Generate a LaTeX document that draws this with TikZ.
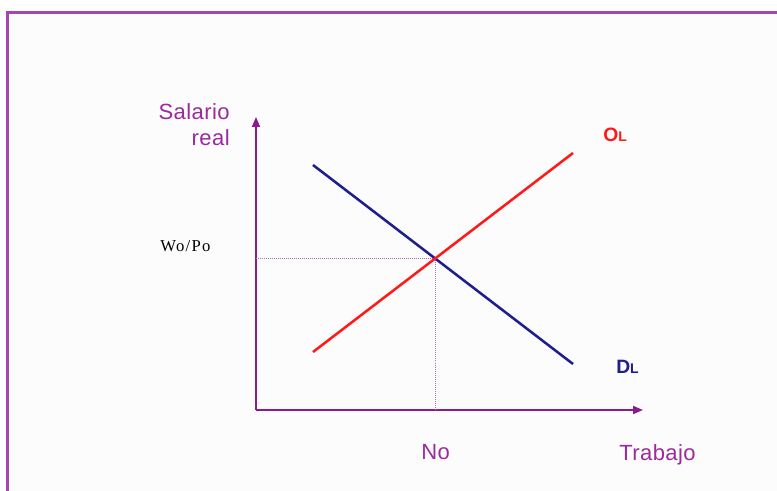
\documentclass[tikz,border=0pt]{standalone}
\usepackage{fontspec}
\setmainfont{Liberation Sans}
\newfontfamily\serifw[LetterSpace=8]{Liberation Serif}
\newfontfamily\wideaxis[LetterSpace=2]{Liberation Sans}
\usepackage{xcolor}
\usetikzlibrary{arrows.meta, positioning}

\definecolor{axispurple}{HTML}{8A1A8E}
\definecolor{textpurple}{HTML}{9B2A9E}
\definecolor{framepurple}{HTML}{A445B2}
\definecolor{demandblue}{HTML}{1E1E8C}
\definecolor{supplyred}{HTML}{FF1A1A}

\begin{document}
\begin{tikzpicture}[
        x=0.75pt, y=-0.75pt,
        axis/.style={
            draw=axispurple,
            line width=1.3pt,
            -{Triangle[length=7.5pt, width=6pt]}
        },
        demand/.style={draw=demandblue, line width=1.9pt},
        supply/.style={draw=supplyred, line width=1.9pt},
        guide/.style={draw=textpurple!70, densely dotted, line width=0.5pt},
        axislabel/.style={
            text=textpurple,
            inner sep=0pt,
            font=\wideaxis\fontsize{16.5}{19.5}\selectfont
        },
        curvelabel/.style={
            inner sep=0pt,
            font=\fontsize{14.5}{17}\selectfont\bfseries
        }
    ]

    \useasboundingbox (0,0) rectangle (777,491);
    \draw [framepurple, line width=1.6pt, fill=black!1] (7.5,12.5) rectangle (790,505);

    % axes
    \coordinate (origin) at (256,410);
    \coordinate (ytip) at (256,117);
    \coordinate (xtip) at (643,410);
    \draw [axis] (origin) -- (ytip);
    \draw [axis] (origin) -- (xtip);

    % curves
    \coordinate (d1) at (313,165);
    \coordinate (d2) at (573,364);
    \coordinate (o1) at (313,352);
    \coordinate (o2) at (573,153);
    \coordinate (eq) at (intersection of d1--d2 and o1--o2);

    \draw [guide] (eq) -- (eq -| origin);
    \draw [guide] (eq) -- (eq |- origin);
    \draw [demand] (d1) -- (d2);
    \draw [supply] (o1) -- (o2);

    % labels
    \node (wage) [axislabel, anchor=north east, align=right] at (230,103) {Salario\\real};
    \node (work) [axislabel, anchor=base west] at (619,460) {Trabajo};
    \node (n0) [axislabel, anchor=base west] at (421,459) {No};
    \node (w0) [anchor=base west, inner sep=0pt, font=\serifw\fontsize{12.5}{15}\selectfont] at (160,252) {Wo/Po};
    \node (ol) [curvelabel, text=supplyred, anchor=base west] at (603,142) {O{\fontsize{10.5}{12}\selectfont L}};
    \node (dl) [curvelabel, text=demandblue, anchor=base west] at (616,373) {D{\fontsize{10.5}{12}\selectfont L}};

\end{tikzpicture}
\end{document}
